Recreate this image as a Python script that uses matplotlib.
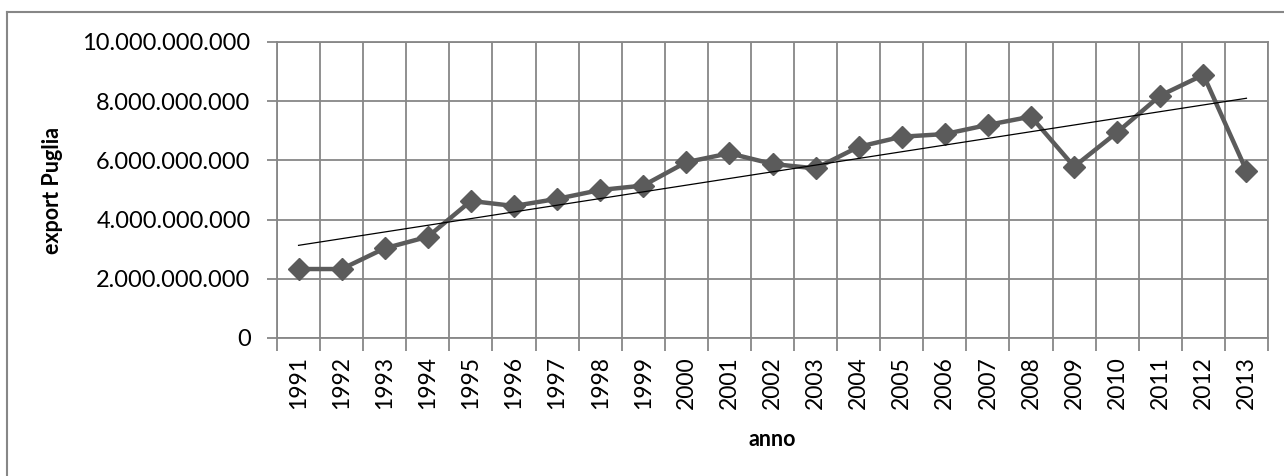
import matplotlib
matplotlib.use("Agg")
import matplotlib.pyplot as plt
from matplotlib.lines import Line2D
from matplotlib.ticker import FuncFormatter
import numpy as np

years = [str(y) for y in range(1991, 2014)]
export_values = [2.33e9, 2.33e9, 3.03e9, 3.42e9, 4.63e9, 4.46e9, 4.70e9, 5.00e9,
                 5.15e9, 5.94e9, 6.24e9, 5.88e9, 5.73e9, 6.46e9, 6.80e9, 6.89e9,
                 7.20e9, 7.48e9, 5.79e9, 6.95e9, 8.19e9, 8.89e9, 5.65e9]
y_ticks = [0, 2e9, 4e9, 6e9, 8e9, 10e9]

plt.rcParams['font.family'] = ['Lato', 'DejaVu Sans']
GRID = '#878787'
LINEC = '#5b5b5b'

fig = plt.figure(figsize=(12.84, 4.76), dpi=100)
ax = fig.add_axes([277/1284, 1 - 338/476, (1268-277)/1284, (338-42)/476])

x = np.arange(len(years))
ax.plot(x, export_values, color=LINEC, lw=3.2, marker='D', ms=11,
        mfc=LINEC, mec=LINEC, zorder=3, solid_joinstyle='round')

# linear trendline (least squares, as Excel does)
coef = np.polyfit(x, export_values, 1)
ax.plot(x, np.polyval(coef, x), color='black', lw=0.9, zorder=4)

ax.set_xlim(-0.5, len(years) - 0.5)
ax.set_ylim(0, 10e9)
ax.set_yticks(y_ticks)
ax.yaxis.set_major_formatter(FuncFormatter(lambda v, p: f"{int(v):,}".replace(',', '.')))
ax.set_xticks(x)
ax.set_xticklabels(years, rotation=90)
ax.set_xticks(np.arange(-0.5, len(years)), minor=True)
ax.tick_params(axis='x', which='major', length=0, pad=13, labelsize=16.5)
ax.tick_params(axis='x', which='minor', length=9, width=1.3, color=GRID)
ax.tick_params(axis='y', length=7, width=1.3, color=GRID, pad=12, labelsize=17)

ax.grid(True, axis='y', which='major', color=GRID, lw=1.3)
ax.grid(True, axis='x', which='minor', color=GRID, lw=1.3)
ax.grid(False, axis='x', which='major')
ax.set_axisbelow(True)
for s in ax.spines.values():
    s.set_color(GRID)
    s.set_linewidth(1.3)

ax.set_ylabel('export Puglia', fontsize=15.5, fontweight='bold', labelpad=14)
ax.set_xlabel('anno', fontsize=15.5, fontweight='bold', labelpad=14)

# outer chart border (left and top visible)
fig.add_artist(Line2D([7/1284, 7/1284], [0, 1 - 12/476], transform=fig.transFigure, color=GRID, lw=1.5))
fig.add_artist(Line2D([7/1284, 1], [1 - 12/476, 1 - 12/476], transform=fig.transFigure, color=GRID, lw=1.5))

fig.savefig('out.png', dpi=100)
